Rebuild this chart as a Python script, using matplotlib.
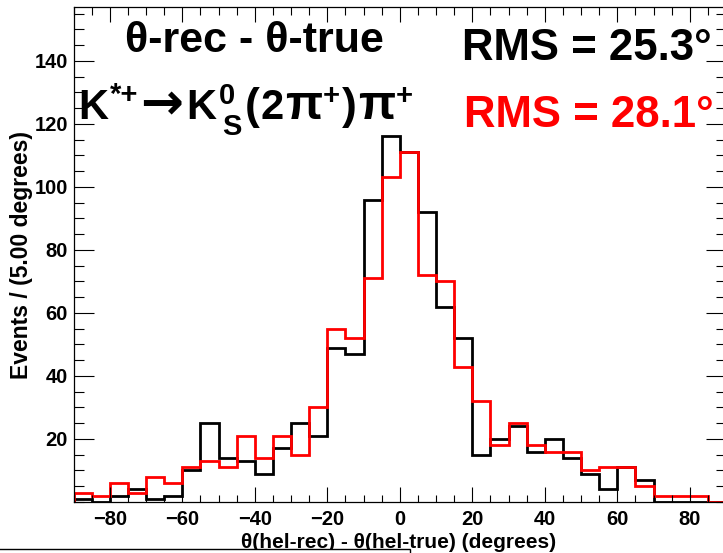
import numpy as np
import matplotlib
matplotlib.use("Agg")
import matplotlib.pyplot as plt
from matplotlib.patches import Rectangle
from matplotlib.ticker import MultipleLocator

# Histogram binning (degrees)
BIN_LOW, BIN_HIGH, BIN_WIDTH = -90, 90, 5

# Events per 5-degree bin
black_counts = [1, 0, 2, 4, 1, 2, 10, 25, 14, 13, 9, 17, 25, 21, 49, 47, 96, 116,
                111, 92, 62, 52, 15, 20, 24, 16, 20, 14, 9, 4, 11, 7, 0, 0, 0, 0]
red_counts = [3, 2, 6, 3, 8, 6, 11, 13, 11, 21, 14, 21, 15, 30, 55, 52, 71, 103,
              111, 72, 70, 43, 32, 18, 25, 18, 16, 16, 10, 11, 11, 5, 2, 2, 2, 0]

rms_black = "RMS = 25.3°"
rms_red = "RMS = 28.1°"
title_text = "θ-rec - θ-true"
x_title = "θ(hel-rec) - θ(hel-true) (degrees)"
y_title = "Events / (5.00 degrees)"

plt.rcParams["font.family"] = ["Liberation Sans", "DejaVu Sans"]
plt.rcParams["font.weight"] = "bold"

W, H = 723, 553
fig = plt.figure(figsize=(W / 100, H / 100), dpi=100)
renderer = fig.canvas.get_renderer()

# frame spans x 73.5..726 px, y 7.3..502 px (slightly past the right edge)
left, right, top, bottom = 73.5, 726, 7.3, 502
ax = fig.add_axes([left / W, 1 - bottom / H, (right - left) / W, (bottom - top) / H])

edges = np.arange(BIN_LOW, BIN_HIGH + BIN_WIDTH, BIN_WIDTH)
ax.stairs(black_counts, edges, color="black", lw=2, baseline=0)
ax.stairs(red_counts, edges, color="#ff0000", lw=2, baseline=0)

ax.set_xlim(BIN_LOW, BIN_HIGH)
ax.set_ylim(0, 157)

ax.xaxis.set_major_locator(MultipleLocator(20))
ax.xaxis.set_minor_locator(MultipleLocator(5))
ax.yaxis.set_major_locator(MultipleLocator(20))
ax.yaxis.set_minor_locator(MultipleLocator(5))

ax.tick_params(axis="both", which="both", direction="in", top=True, right=True,
               width=0.8, labelsize=14.5)
ax.tick_params(axis="x", which="major", length=10.8, pad=6)
ax.tick_params(axis="x", which="minor", length=5.4)
ax.tick_params(axis="y", which="major", length=14.4, pad=4)
ax.tick_params(axis="y", which="minor", length=7.2)

ax.set_yticks(range(20, 160, 20))
ax.set_xticks(range(-80, 100, 20))
for lab in ax.get_xticklabels() + ax.get_yticklabels():
    lab.set_fontweight("bold")
for s in ax.spines.values():
    s.set_linewidth(0.9)

# axis titles placed in figure pixels
fig.text(22 / W, 1 - 255 / H, y_title, rotation=90, ha="center", va="center",
         fontsize=16.5, fontweight="bold")
fig.text(399 / W, 1 - 548 / H, x_title, ha="center", va="baseline",
         fontsize=15, fontweight="bold")

# in-plot labels
fig.text(254 / W, 1 - 52 / H, title_text, ha="center", va="baseline",
         fontsize=31, fontweight="bold")
fig.text(462 / W, 1 - 60 / H, rms_black, ha="left", va="baseline",
         fontsize=31.5, fontweight="bold", color="black")
fig.text(464 / W, 1 - 127 / H, rms_red, ha="left", va="baseline",
         fontsize=31.5, fontweight="bold", color="#ff0000")


# decay label, built piece by piece like ROOT's latex (sup/sub offsets in px)
def put(txt, x, base, size, dy=0, family=None):
    kw = {"family": family} if family else {}
    t = fig.text(x / W, 1 - (base - dy) / H, txt, ha="left", va="baseline",
                 fontsize=size, fontweight="bold", **kw)
    bb = t.get_window_extent(renderer)
    return bb.x1


base = 119
big, small = 30, 21
x = 78
x = put("K", x, base, big)
x = put("*+", x + 2, base, small, dy=16)
x = put("→", x + 2, base, 37, family=["DejaVu Sans"])
x = put("K", x + 3, base, big)
x0 = put("0", x + 3, base, small, dy=15)
x1 = put("S", x + 6, base, small, dy=-16)
x = max(x0, x1)
x = put("(", x + 3, base, 32)
x = put("2", x + 1, base, big)
x = put("π", x + 1, base, 35)
x = put("+", x + 1, base, small, dy=15)
x = put(")", x + 2, base, 32)
x = put("π", x + 1, base, 35)
x = put("+", x + 1, base, small, dy=15)

# partly visible box at the bottom-left corner
fig.add_artist(Rectangle((-0.01, -0.01), 410 / W + 0.01, (553 - 549) / H + 0.01,
                         transform=fig.transFigure, facecolor="white",
                         edgecolor="black", lw=1, zorder=5))

fig.savefig("out.png", dpi=100)
